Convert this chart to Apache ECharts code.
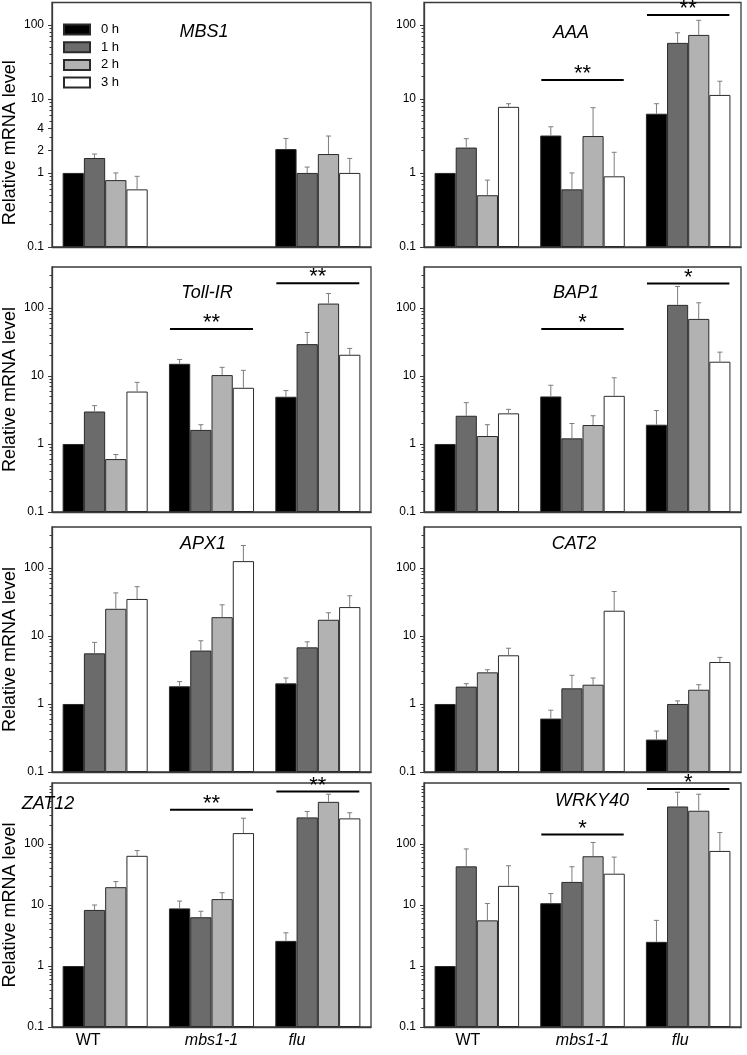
<!DOCTYPE html>
<html>
<head>
<meta charset="utf-8">
<script src="https://cdn.jsdelivr.net/npm/echarts@6/dist/echarts.min.js"></script>
<style>
html,body{margin:0;padding:0;background:#fff;}
#chart{width:747px;height:1055px;}
</style>
</head>
<body>
<div id="chart"></div>
<script>
// ---------- DATA ----------
const categories = ['WT', 'mbs1-1', 'flu'];
const hours = ['0 h', '1 h', '2 h', '3 h'];
const genes = ['MBS1', 'AAA', 'Toll-IR', 'BAP1', 'APX1', 'CAT2', 'ZAT12', 'WRKY40'];
const majorTickLabels = [0.1, 1, 10, 100];
const mbs1TickLabels = [0.1, 1, 2, 4, 10, 100];

// mean values: one row per hour (0,1,2,3 h), columns WT, mbs1-1, flu
const mbs1Mean = [[1.0, null, 2.1], [1.59, null, 1.0], [0.80, null, 1.8], [0.60, null, 1.0]];
const mbs1Err  = [[null, null, 2.92], [1.8, null, 1.2], [1.0, null, 3.15], [0.9, null, 1.57]];

const aaaMean = [[1.0, 3.2, 6.3], [2.2, 0.60, 57], [0.50, 3.15, 73], [7.8, 0.90, 11.3]];
const aaaErr  = [[null, 4.2, 8.6], [2.9, 1.0, 78], [0.80, 7.6, 115], [8.6, 1.9, 17.3]];
const aaaSig  = [[1, 18, '**'], [2, 136, '**']];

const tollMean = [[1.0, 15.1, 4.95], [3.0, 1.61, 29.4], [0.60, 10.3, 116], [5.9, 6.7, 20.5]];
const tollErr  = [[null, 17.5, 6.1], [3.66, 1.92, 43.6], [0.70, 13.4, 163], [8.05, 12.1, 25.4]];
const tollSig  = [[1, 49, '**'], [2, 231, '**']];

const bap1Mean = [[1.0, 5.0, 1.92], [2.6, 1.21, 111], [1.31, 1.90, 69], [2.82, 5.1, 16.2]];
const bap1Err  = [[null, 7.3, 3.1], [4.05, 2.0, 207], [1.92, 2.6, 119], [3.23, 9.4, 22.4]];
const bap1Sig  = [[1, 49, '*'], [2, 229, '*']];

const apx1Mean = [[1.0, 1.82, 2.01], [5.55, 6.1, 6.8], [25.1, 18.9, 17.3], [35, 126, 26.6]];
const apx1Err  = [[null, 2.13, 2.41], [8.05, 8.5, 8.2], [43, 28.7, 21.9], [53, 214, 39]];

const cat2Mean = [[1.0, 0.61, 0.30], [1.80, 1.70, 1.0], [2.92, 1.92, 1.62], [5.2, 23.5, 4.14]];
const cat2Err  = [[null, 0.81, 0.40], [1.99, 2.64, 1.11], [3.19, 2.41, 1.92], [6.6, 45, 4.84]];

const zat12Mean = [[1.0, 8.8, 2.58], [8.3, 6.3, 273], [19.6, 12.5, 491], [64, 151, 263]];
const zat12Err  = [[null, 11.6, 3.5], [10, 7.9, 342], [24.2, 15.9, 655], [78, 265, 325]];
const zat12Sig  = [[1, 366, '**'], [2, 723, '**']];

const wrkyMean = [[1.0, 10.7, 2.49], [43, 23.9, 412], [5.6, 63, 351], [20.6, 32.6, 77]];
const wrkyErr  = [[null, 15.4, 5.6], [83, 42.4, 706], [10.6, 106, 655], [44, 61, 154]];
const wrkySig  = [[1, 143, '*'], [2, 800, '*']];

// ---------- LAYOUT / STYLE ----------
const FONT = 'Liberation Sans, Arial, sans-serif';
const barColors = ['#000000', '#6b6b6b', '#b2b2b2', '#ffffff'];
const panels = [
  {mean: mbs1Mean, err: mbs1Err, sig: [], ticks: mbs1TickLabels, max: 200, grid: {left: 52, top: 2.5, width: 319, height: 244.5}, title: {x: 204, y: 23}, nameShift: 18},
  {mean: aaaMean, err: aaaErr, sig: aaaSig, ticks: majorTickLabels, max: 200, grid: {left: 424, top: 2.5, width: 317, height: 244.5}, title: {x: 571, y: 24}},
  {mean: tollMean, err: tollErr, sig: tollSig, ticks: majorTickLabels, max: 400, grid: {left: 52, top: 267, width: 319, height: 245}, title: {x: 207, y: 284}},
  {mean: bap1Mean, err: bap1Err, sig: bap1Sig, ticks: majorTickLabels, max: 400, grid: {left: 424, top: 267, width: 317, height: 245}, title: {x: 576, y: 284}},
  {mean: apx1Mean, err: apx1Err, sig: [], ticks: majorTickLabels, max: 400, grid: {left: 52, top: 527, width: 319, height: 245}, title: {x: 203, y: 535}},
  {mean: cat2Mean, err: cat2Err, sig: [], ticks: majorTickLabels, max: 400, grid: {left: 424, top: 527, width: 317, height: 245}, title: {x: 574, y: 535}},
  {mean: zat12Mean, err: zat12Err, sig: zat12Sig, ticks: majorTickLabels, max: 1000, grid: {left: 52, top: 783, width: 319, height: 244}, title: {x: 48, y: 795},
   labelShift: [-17, 0, -21]},
  {mean: wrkyMean, err: wrkyErr, sig: wrkySig, ticks: majorTickLabels, max: 1000, grid: {left: 424, top: 783, width: 317, height: 244}, title: {x: 592, y: 792},
   labelShift: [-9, 0, -8]}
];

function minorValues(max) {
  const out = [];
  for (let d = 0.1; d < max; d *= 10) {
    for (let k = 2; k <= 9; k++) {
      const v = +(k * d).toPrecision(3);
      if (v < max) out.push(v);
    }
  }
  return out;
}
function fmt(v) { return v < 1 ? (+v).toFixed(1) : String(Math.round(v)); }

const grids = [], xAxes = [], yAxes = [], series = [], titles = [];

panels.forEach((p, g) => {
  const isBottom = g >= 6, isLeft = g % 2 === 0;
  const shift = p.labelShift || [0, 0, 0];
  const rich = {};
  categories.forEach((c, i) => {
    const s = shift[i];
    rich['c' + i] = {fontFamily: FONT, fontSize: 16, color: '#000', fontStyle: i === 0 ? 'normal' : 'italic',
      padding: s < 0 ? [0, -2 * s, 0, 0] : [0, 0, 0, 2 * s]};
  });
  grids.push(Object.assign({show: true, borderColor: '#3a3a3a', borderWidth: 1.3, backgroundColor: 'transparent'}, p.grid));
  xAxes.push({
    type: 'category', gridIndex: g, data: categories,
    axisLine: {show: true, lineStyle: {color: '#3a3a3a', width: 1.3}},
    axisTick: {show: false},
    axisLabel: {
      show: isBottom, margin: 6,
      formatter: (v, i) => '{c' + categories.indexOf(v) + '|' + v + '}',
      rich: rich
    }
  });
  const ns = p.nameShift || 0;
  // main log axis
  yAxes.push({
    type: 'log', logBase: 10, gridIndex: g, position: 'left', min: 0.1, max: p.max, startValue: 0.1,
    name: isLeft ? 'Relative mRNA level' : '', nameLocation: 'middle', nameGap: 33,
    nameTextStyle: {fontFamily: FONT, fontSize: 18, color: '#000', padding: [0, 2 * ns, 0, 0]},
    axisLine: {show: true, lineStyle: {color: '#3a3a3a', width: 1.3}},
    axisTick: {show: true, inside: false, length: 4, customValues: p.ticks, lineStyle: {color: '#3a3a3a'}},
    axisLabel: {show: true, customValues: p.ticks, margin: 8, fontFamily: FONT, fontSize: 12, color: '#000', formatter: fmt},
    splitLine: {show: false}, minorTick: {show: false}
  });
  // minor ticks axis (same scale, same side)
  yAxes.push({
    type: 'log', logBase: 10, gridIndex: g, position: 'left', offset: 0, min: 0.1, max: p.max,
    axisLine: {show: false},
    axisTick: {show: true, inside: false, length: 2.5, customValues: minorValues(p.max), lineStyle: {color: '#3a3a3a'}},
    axisLabel: {show: false},
    splitLine: {show: false}
  });
  const yIdx = 2 * g;
  hours.forEach((h, k) => {
    series.push({
      type: 'bar', name: h, xAxisIndex: g, yAxisIndex: yIdx,
      data: p.mean[k], barGap: '0%', barCategoryGap: '20%',
      itemStyle: {color: barColors[k], borderColor: '#2a2a2a', borderWidth: 1},
      emphasis: {disabled: true}, animation: false
    });
  });
  // error bars
  const errData = [];
  p.err.forEach((row, k) => row.forEach((e, c) => {
    if (e != null && p.mean[k][c] != null) errData.push([c, p.mean[k][c], e, k]);
  }));
  series.push({
    type: 'custom', xAxisIndex: g, yAxisIndex: yIdx, z: 5, animation: false, silent: true,
    data: errData, encode: {x: 0, y: [1, 2]},
    renderItem: (params, api) => {
      const c = api.value(0), m = api.value(1), e = api.value(2), k = api.value(3);
      const band = api.size([1, 0])[0];
      const bw = band * 0.8 / 4;
      const base = api.coord([c, m]);
      const top = api.coord([c, e]);
      const x = base[0] + (k - 1.5) * bw;
      const st = {stroke: '#7d7d7d', lineWidth: 1};
      return {type: 'group', children: [
        {type: 'line', shape: {x1: x, y1: base[1], x2: x, y2: top[1]}, style: st},
        {type: 'line', shape: {x1: x - 2.5, y1: top[1], x2: x + 2.5, y2: top[1]}, style: st}
      ]};
    }
  });
  // significance lines
  if (p.sig.length) {
    const sigs = p.sig;
    series.push({
      type: 'custom', xAxisIndex: g, yAxisIndex: yIdx, z: 6, animation: false, silent: true,
      data: sigs.map(s => [s[0], s[1]]), encode: {x: 0, y: 1},
      renderItem: (params, api) => {
        const c = api.value(0), v = api.value(1);
        const band = api.size([1, 0])[0];
        const pt = api.coord([c, v]);
        const x1 = pt[0] - 0.39 * band, x2 = pt[0] + 0.39 * band;
        return {type: 'group', children: [
          {type: 'line', shape: {x1: x1, y1: pt[1], x2: x2, y2: pt[1]}, style: {stroke: '#000', lineWidth: 2}},
          {type: 'text', style: {x: pt[0], y: pt[1] + 5, text: sigs[params.dataIndex][2], fill: '#000',
            font: '22px ' + FONT, align: 'center', verticalAlign: 'bottom'}}
        ]};
      }
    });
  }
  titles.push({
    text: genes[g], left: p.title.x, top: p.title.y, textAlign: 'center', padding: 0,
    textStyle: {fontFamily: FONT, fontSize: 18, fontStyle: 'italic', fontWeight: 'normal', color: '#000'}
  });
});

const chart = echarts.init(document.getElementById('chart'), null, {renderer: 'canvas'});
chart.setOption({
  animation: false,
  backgroundColor: '#fff',
  title: titles,
  legend: {
    data: hours, orient: 'vertical', left: 63, top: 23, padding: 0, icon: 'rect',
    itemWidth: 26, itemHeight: 10, itemGap: 4.7, selectedMode: false,
    textStyle: {fontFamily: FONT, fontSize: 13, color: '#000', padding: [0, 0, 0, 6]}
  },
  grid: grids, xAxis: xAxes, yAxis: yAxes, series: series
});
</script>
</body>
</html>
